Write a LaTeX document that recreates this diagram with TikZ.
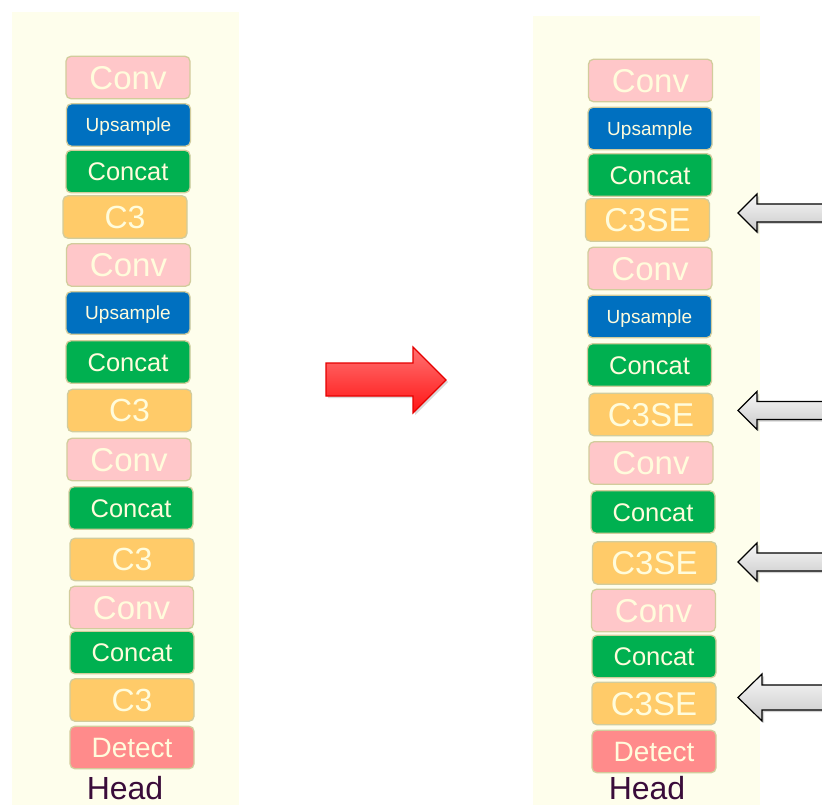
\documentclass[tikz,border=0pt]{standalone}
\usepackage{fontspec}
\setmainfont{Liberation Sans}
\usetikzlibrary{shadows}
\definecolor{panel}{HTML}{FEFEEC}
\definecolor{convc}{HTML}{FFC7C9}
\definecolor{upsc}{HTML}{0070C0}
\definecolor{catc}{HTML}{00B050}
\definecolor{cthc}{HTML}{FFCB69}
\definecolor{detc}{HTML}{FF8B8B}
\definecolor{edgec}{HTML}{D2CC9C}
\definecolor{txtc}{HTML}{FFFCDC}
\definecolor{headc}{HTML}{3A0C3A}
\newcommand\myfs[1]{\fontsize{#1}{#1}\selectfont}
\begin{document}
\begin{tikzpicture}[x=1pt,y=-1pt,
  box/.style={draw=edgec, line width=1.3pt, rounded corners=5pt, minimum width=124pt, minimum height=42.5pt, inner sep=0pt, text=txtc, text depth=0pt},
  conv/.style={box, fill=convc, font=\myfs{33}, text height=23.6pt},
  ups/.style={box, fill=upsc, font=\myfs{19}, text height=13.6pt},
  cat/.style={box, fill=catc, font=\myfs{25.5}, text height=18.3pt},
  cthree/.style={box, fill=cthc, font=\myfs{32}, text height=22.9pt},
  cse/.style={box, fill=cthc, font=\myfs{33}, text height=23.6pt},
  det/.style={box, fill=detc, font=\myfs{28}, text height=20pt},
  headlbl/.style={font=\myfs{32}, text=headc, inner sep=0pt, text height=22.9pt, text depth=0pt},
  grayarr/.style={draw=black, line width=1.2pt, line join=miter, top color=gray!6, bottom color=gray!42, drop shadow={opacity=0.35, shadow xshift=2pt, shadow yshift=-2pt}},
  redarr/.style={draw=red!90!black, line width=1.2pt, top color=red!55, bottom color=red!92, drop shadow={opacity=0.3, shadow xshift=2pt, shadow yshift=-2pt}}
]
\useasboundingbox (0,0) rectangle (822,805);
\clip (0,0) rectangle (822,805);
% panels
\fill[panel] (12,12) rectangle (239,810);
\fill[panel] (533,16) rectangle (760,810);
% left column
\node[conv]   (l1)  at (128,77.5)  {Conv};
\node[ups]    (l2)  at (128.5,125) {Upsample};
\node[cat]    (l3)  at (128,171.5) {Concat};
\node[cthree] (l4)  at (125,217)   {C3};
\node[conv]   (l5)  at (128.5,265) {Conv};
\node[ups]    (l6)  at (128,313)   {Upsample};
\node[cat]    (l7)  at (128,362)   {Concat};
\node[cthree] (l8)  at (129.5,410.5) {C3};
\node[conv]   (l9)  at (129,459.5) {Conv};
\node[cat]    (l10) at (131,508)   {Concat};
\node[cthree] (l11) at (132,559.5) {C3};
\node[conv]   (l12) at (131.5,607.5) {Conv};
\node[cat]    (l13) at (132,652.5) {Concat};
\node[cthree] (l14) at (132,700)   {C3};
\node[det]    (l15) at (132,747.5) {Detect};
\node[headlbl] (lh) at (125,788) {Head};
% right column
\node[conv]   (r1)  at (650.5,80.5)  {Conv};
\node[ups]    (r2)  at (650,128.5)   {Upsample};
\node[cat]    (r3)  at (650,175)     {Concat};
\node[cse]    (r4)  at (647.5,220)   {C3SE};
\node[conv]   (r5)  at (650,268.5)   {Conv};
\node[ups]    (r6)  at (649.5,316.5) {Upsample};
\node[cat]    (r7)  at (649.5,365)   {Concat};
\node[cse]    (r8)  at (651,414.5)   {C3SE};
\node[conv]   (r9)  at (651,463)     {Conv};
\node[cat]    (r10) at (653,512)     {Concat};
\node[cse]    (r11) at (654.5,563)   {C3SE};
\node[conv]   (r12) at (653.5,610.5) {Conv};
\node[cat]    (r13) at (654,656.5)   {Concat};
\node[cse]    (r14) at (654,703.5)   {C3SE};
\node[det]    (r15) at (654,751.5)   {Detect};
\node[headlbl] (rh) at (647,788) {Head};
% red arrow
\path[redarr] (326,363) -- (413,363) -- (413,347) -- (446,380) -- (413,413) -- (413,396) -- (326,396) -- cycle;
% gray arrows
\path[grayarr] (840,204) -- (757,204) -- (757,194) -- (738,213) -- (757,232) -- (757,222) -- (840,222) -- cycle;
\path[grayarr] (840,401.5) -- (757,401.5) -- (757,391.5) -- (738,410.5) -- (757,429.5) -- (757,419.5) -- (840,419.5) -- cycle;
\path[grayarr] (840,553) -- (757,553) -- (757,543) -- (738,562) -- (757,581) -- (757,571) -- (840,571) -- cycle;
\path[grayarr] (840,685) -- (762,685) -- (762,674) -- (738,697.5) -- (762,721) -- (762,710) -- (840,710) -- cycle;
\end{tikzpicture}
\end{document}
